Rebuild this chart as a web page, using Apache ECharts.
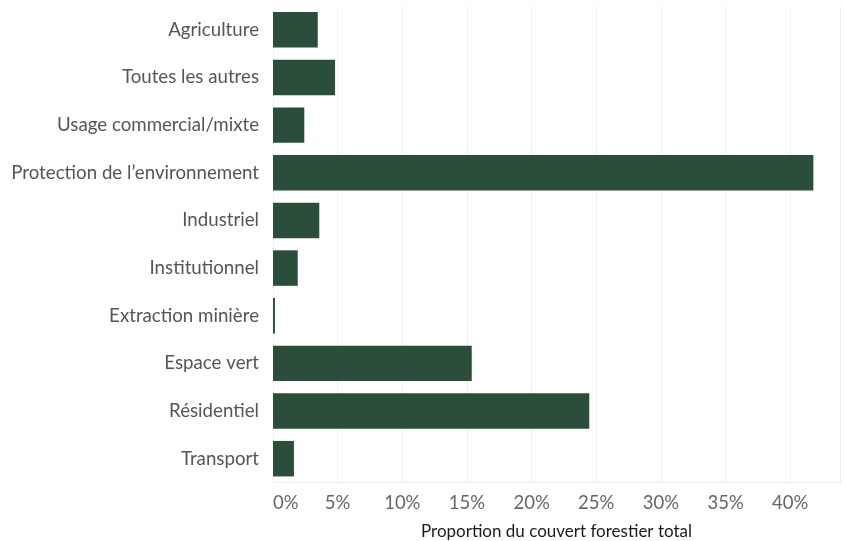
<!DOCTYPE html>
<html>
<head>
<meta charset="utf-8">
<script src="https://cdn.jsdelivr.net/npm/echarts@6/dist/echarts.min.js"></script>
<style>
html,body{margin:0;padding:0;background:#fff;}
#chart{width:844px;height:541px;}
</style>
</head>
<body>
<div id="chart"></div>
<script>
const categories = ["Agriculture","Toutes les autres","Usage commercial/mixte","Protection de l\u2019environnement","Industriel","Institutionnel","Extraction mini\u00e8re","Espace vert","R\u00e9sidentiel","Transport"];
const values = [3.46, 4.8, 2.42, 41.79, 3.58, 1.91, 0.15, 15.37, 24.46, 1.62];
const xTicks = [0,5,10,15,20,25,30,35,40];
const axisTitle = "Proportion du couvert forestier total";

const chart = echarts.init(document.getElementById('chart'), null, {renderer:'canvas'});
chart.setOption({
  animation:false,
  backgroundColor:'#ffffff',
  textStyle:{fontFamily:'Lato'},
  grid:{left:273, right:4, top:6, height:476.5, containLabel:false, outerBoundsMode:'none'},
  xAxis:{
    type:'value', min:0, max:43.85, interval:5,
    axisLine:{show:true, lineStyle:{color:'#eeeeee', width:1}},
    axisTick:{show:false},
    splitLine:{show:true, lineStyle:{color:'#f1f1f1', width:1}},
    axisLabel:{
      color:'#666666', fontSize:18.5, fontFamily:'Lato', margin:11,
      showMaxLabel:false, alignMinLabel:'left',
      formatter:function(v){ return xTicks.indexOf(v) >= 0 ? v + '%' : ''; }
    },
    name:axisTitle, nameLocation:'middle', nameGap:41,
    nameTextStyle:{color:'#1a1a1a', fontSize:17, fontFamily:'Lato'}
  },
  yAxis:{
    type:'category', data:categories, inverse:true,
    axisLine:{show:false}, axisTick:{show:false}, splitLine:{show:false},
    axisLabel:{color:'#555555', fontSize:18.7, fontFamily:'Lato', margin:14}
  },
  series:[{
    type:'bar', data:values, barCategoryGap:'25.5%',
    itemStyle:{color:'#2a4e3a'}
  }]
});
</script>
</body>
</html>
